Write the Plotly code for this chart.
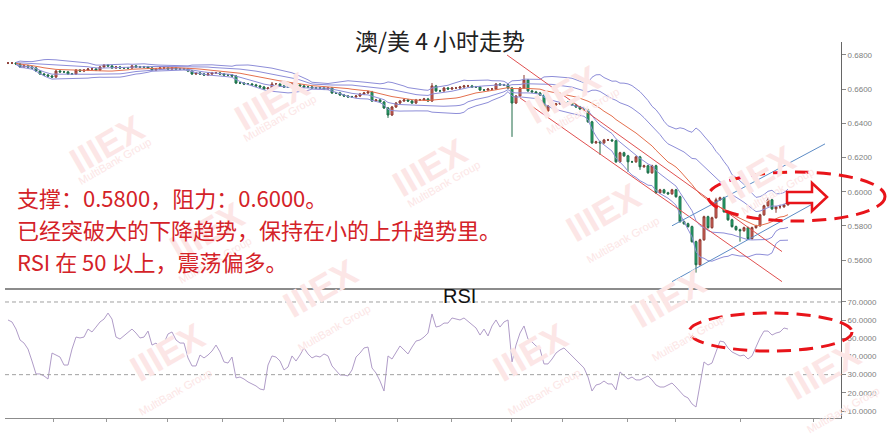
import plotly.graph_objects as go
import pandas as pd

# ---------------- data ----------------
closes = [
    .6753, .6753, .6747, .6730, .6736, .6730, .6724, .6706, .6689, .6683, .6677, .6671,
    .6706, .6701, .6701, .6689, .6689, .6712, .6706, .6712, .6718, .6718, .6712, .6730,
    .6741, .6736, .6724, .6730, .6724, .6724, .6724, .6736, .6730, .6730, .6730, .6724, .6712, .6718, .6724,
    .6724, .6718, .6724, .6718, .6718, .6718, .6706, .6689, .6695, .6689, .6683, .6689, .6695, .6695, .6689, .6683, .6683, .6677,
    .6636, .6636, .6630, .6630, .6625, .6619, .6613, .6601, .6607, .6630, .6630, .6619, .6613, .6613, .6630, .6625, .6619,
    .6613, .6613, .6607, .6607, .6607, .6601, .6607, .6578, .6578, .6566, .6560, .6555, .6555, .6560, .6572, .6578, .6584,
    .6531, .6537, .6525, .6490, .6449, .6496, .6519, .6531, .6537, .6531, .6519, .6537, .6537, .6543, .6531, .6619, .6590, .6590,
    .6607, .6601, .6607, .6607, .6613, .6619, .6619, .6613, .6613, .6595, .6595, .6601, .6601, .6630, .6625, .6625, .6607,
    .6519, .6560, .6607, .6654, .6590, .6584, .6578, .6566, .6473, .6502, .6508, .6514, .6519, .6525, .6519, .6508, .6496, .6484,
    .6479, .6409, .6286, .6292, .6286, .6303, .6303, .6298, .6175, .6228, .6210, .6175, .6175, .6204, .6146, .6152, .6111, .6152,
    .5994, .6011, .5994, .5988, .6011, .5971, .5825,
    .5813, .5796, .5708, .5573, .5719, .5854, .5790, .5848, .5953, .5965, .5883, .5836, .5796, .5778, .5772, .5790, .5726,
    .5790, .5801, .5865, .5918, .5953, .5900, .5912, .5912, .5924, .5994,
]
opens = [closes[0]] + closes[:-1]
highs = [
    .6759, .6759, .6759, .6753, .6742, .6742, .6736, .6730, .6712, .6695, .6689, .6683,
    .6712, .6712, .6707, .6707, .6695, .6718, .6718, .6718, .6724, .6724, .6724, .6736,
    .6747, .6747, .6742, .6736, .6736, .6730, .6730, .6742, .6742, .6736, .6736, .6736, .6730, .6724, .6730,
    .6730, .6730, .6730, .6730, .6724, .6724, .6724, .6712, .6701, .6701, .6695, .6695, .6701, .6701, .6701, .6695, .6689, .6689,
    .6683, .6642, .6642, .6636, .6636, .6631, .6625, .6619, .6613, .6642, .6636, .6636, .6625, .6619, .6636, .6636, .6631,
    .6625, .6619, .6619, .6613, .6613, .6613, .6613, .6613, .6584, .6584, .6572, .6566, .6561, .6566, .6578, .6584, .6590,
    .6590, .6543, .6543, .6531, .6496, .6502, .6525, .6537, .6543, .6543, .6537, .6543, .6543, .6549, .6549, .6636, .6625, .6596,
    .6613, .6613, .6613, .6613, .6619, .6625, .6625, .6625, .6619, .6619, .6601, .6607, .6607, .6636, .6636, .6631, .6631,
    .6613, .6566, .6613, .6683, .6660, .6596, .6590, .6584, .6572, .6508, .6514, .6520, .6525, .6531, .6531, .6525, .6514, .6502,
    .6490, .6485, .6415, .6298, .6298, .6309, .6309, .6309, .6304, .6234, .6234, .6216, .6181, .6210, .6210, .6158, .6158, .6158,
    .6158, .6017, .6017, .6000, .6017, .6017, .5977,
    .5831, .5819, .5802, .5714, .5725, .5860, .5860, .5854, .5965, .5971, .5971, .5889, .5842, .5802, .5784, .5796, .5796,
    .5796, .5807, .5871, .5924, .5965, .5959, .5918, .5924, .5930, .6000,
]
lows = [
    .6747, .6747, .6741, .6724, .6724, .6724, .6718, .6700, .6683, .6677, .6671, .6665,
    .6665, .6695, .6695, .6683, .6683, .6683, .6700, .6700, .6706, .6712, .6706, .6706,
    .6724, .6730, .6718, .6718, .6718, .6718, .6718, .6718, .6724, .6724, .6724, .6718, .6706, .6706, .6712,
    .6718, .6712, .6712, .6712, .6712, .6712, .6700, .6683, .6683, .6683, .6677, .6677, .6683, .6689, .6683, .6677, .6677, .6671,
    .6630, .6630, .6624, .6624, .6619, .6613, .6607, .6595, .6595, .6601, .6624, .6613, .6607, .6607, .6607, .6619, .6613,
    .6607, .6607, .6601, .6601, .6601, .6595, .6595, .6572, .6572, .6560, .6554, .6549, .6549, .6549, .6554, .6566, .6572,
    .6525, .6525, .6519, .6484, .6432, .6443, .6490, .6513, .6525, .6525, .6513, .6513, .6531, .6531, .6525, .6525, .6584, .6584,
    .6584, .6595, .6595, .6601, .6601, .6607, .6613, .6607, .6607, .6589, .6589, .6589, .6595, .6595, .6619, .6619, .6601,
    .6321, .6513, .6554, .6601, .6584, .6578, .6572, .6560, .6467, .6467, .6496, .6502, .6508, .6513, .6513, .6502, .6490, .6478,
    .6473, .6403, .6280, .6280, .6216, .6280, .6297, .6292, .6169, .6169, .6204, .6117, .6169, .6169, .6128, .6140, .6105, .6105,
    .5988, .5988, .5988, .5982, .5982, .5965, .5819,
    .5807, .5790, .5702, .5527, .5567, .5713, .5784, .5784, .5842, .5947, .5877, .5830, .5790, .5772, .5708, .5766, .5720,
    .5720, .5784, .5795, .5859, .5912, .5894, .5877, .5900, .5906, .5918,
]
rsi = [
    60.1, 59.0, 55.1, 49.1, 47.4, 44.1, 37.5, 30.4, 30.4, 29.3,
    27.6, 41.9, 40.8, 39.7, 35.3, 35.3, 44.1, 50.7, 50.2, 50.7,
    55.1, 53.5, 56.2, 59.0, 60.6, 63.9, 60.6, 50.7, 49.6, 51.3,
    53.5, 55.1, 52.9, 50.2, 50.7, 54.0, 46.3, 47.4, 45.2, 47.4,
    52.4, 53.5, 49.1, 47.4, 47.4, 39.2, 34.8, 34.8, 40.8, 39.2,
    40.8, 43.0, 46.3, 42.5, 37.0, 36.4, 39.7, 28.2, 28.7, 27.6,
    26.0, 24.9, 23.8, 22.1, 21.6, 35.3, 40.3, 39.7, 37.5, 32.6,
    34.2, 40.3, 37.5, 40.8, 44.7, 41.4, 39.2, 40.3, 39.7, 41.4,
    40.3, 34.8, 32.0, 29.8, 29.8, 29.3, 32.6, 39.7, 41.9, 44.7,
    45.2, 33.7, 30.9, 26.5, 21.0, 40.3, 38.6, 41.9, 45.8, 43.6,
    41.4, 45.2, 48.5, 49.1, 50.7, 52.9, 63.4, 56.2, 56.8, 58.4,
    58.4, 61.2, 60.6, 60.1, 61.2, 59.5, 57.9, 55.7, 51.8, 55.1,
    51.3, 56.8, 60.1, 56.2, 59.0, 60.1, 37.0, 46.3, 52.9, 56.8,
    49.6, 48.0, 45.8, 44.1, 35.9, 35.9, 38.6, 41.9, 43.6, 44.7,
    42.5, 40.3, 38.1, 35.9, 33.7, 28.7, 21.0, 24.3, 24.9, 26.5,
    24.9, 24.9, 21.6, 31.5, 29.3, 27.6, 28.7, 27.1, 27.1, 28.2,
    29.3, 27.1, 24.3, 23.2, 23.2, 24.3, 25.4, 23.2, 21.0, 18.3,
    17.2, 13.9, 12.2, 24.3, 37.0, 35.3, 36.4, 42.5, 48.5, 48.0,
    44.7, 42.5, 41.4, 40.3, 40.8, 38.6, 40.3, 45.2, 50.2, 54.0,
    54.0, 51.8, 52.9, 53.5, 55.7, 55.1,
]
price_ticks = [0.56, 0.58, 0.60, 0.62, 0.64, 0.66, 0.68]
rsi_ticks = [10, 20, 30, 40, 50, 60, 70]
rsi_levels = [30, 70]
session_ticks = [11.25, 24.5, 39.75, 53.5, 68.75, 81.75, 97.25, 110.75, 125.75,
                 138.5, 154.75, 166.75, 183, 201.25]
# hand-drawn trend lines: (candle index, price)
down_upper = [(124.75, 0.6800), (193.5, 0.5650)]
down_lower = [(128.0, 0.6549), (193.5, 0.5474)]
up_upper = [(166.0, 0.5801), (204.25, 0.6280)]
up_lower = [(166.0, 0.5474), (203.5, 0.5959)]

title_text = "澳/美 4 小时走势"
notes = ["支撑：0.5800，阻力：0.6000。",
         "已经突破大的下降趋势，保持在小的上升趋势里。",
         "RSI 在 50 以上，震荡偏多。"]

# ---------------- figure ----------------
N = len(closes)
x = list(range(N))
s = pd.Series(closes)
ma = s.rolling(20, min_periods=3).mean()
sd = s.rolling(20, min_periods=3).std(ddof=0)

W, H = 889, 440
ML, MR, MT, MB = 5, 48, 42, 22
PW, PH = W - ML - MR, H - MT - MB


def px(v):
    return (v - ML) / PW


def py(v):
    return (H - MB - v) / PH


split = py(288)

fig = go.Figure()

band_col = "#8d8dd8"
for k in (2, 1, -1, -2):
    fig.add_trace(go.Scatter(x=x, y=ma + k * sd, mode="lines",
                             line=dict(color=band_col, width=1), hoverinfo="skip"))
fig.add_trace(go.Scatter(x=x, y=ma, mode="lines",
                         line=dict(color="#e4704e", width=1), hoverinfo="skip"))

for seg, col in ((down_upper, "#e05050"), (down_lower, "#e05050"),
                 (up_upper, "#5d8cc6"), (up_lower, "#5d8cc6")):
    fig.add_trace(go.Scatter(x=[p[0] for p in seg], y=[p[1] for p in seg], mode="lines",
                             line=dict(color=col, width=1), hoverinfo="skip"))

fig.add_trace(go.Candlestick(
    x=x, open=opens, high=highs, low=lows, close=closes,
    increasing=dict(line=dict(color="#8a3b33", width=1), fillcolor="#e3675c"),
    decreasing=dict(line=dict(color="#1f6a47", width=1), fillcolor="#22b174"),
    whiskerwidth=0, hoverinfo="skip"))

fig.add_trace(go.Scatter(x=x[:len(rsi)], y=rsi, mode="lines", xaxis="x2", yaxis="y2",
                         line=dict(color="#b09cc8", width=1), hoverinfo="skip"))

shapes = []
for lv in rsi_levels:
    shapes.append(dict(type="line", xref="paper", yref="y2", x0=0, x1=1, y0=lv, y1=lv,
                       line=dict(color="#a0a0a0", width=1, dash="4px,3px")))

red = "#e8141a"
shapes.append(dict(type="circle", xref="paper", yref="paper",
                   x0=px(708), x1=px(885), y0=py(221), y1=py(172),
                   line=dict(color=red, width=3, dash="14px,8px"), layer="above"))
shapes.append(dict(type="circle", xref="paper", yref="paper",
                   x0=px(689), x1=px(852), y0=py(351), y1=py(313),
                   line=dict(color=red, width=3, dash="14px,8px"), layer="above"))
arrow_pts = [(787, 192), (812, 192), (812, 183), (827, 197), (812, 211), (812, 203), (787, 203)]
path = "M " + " L ".join(f"{px(a):.5f},{py(b):.5f}" for a, b in arrow_pts) + " Z"
shapes.append(dict(type="path", xref="paper", yref="paper", path=path,
                   line=dict(color=red, width=2.5), fillcolor="white", layer="above"))

annotations = []
# faint watermarks
wm = [(60, 105), (225, 62), (430, 128), (610, 55), (650, 212), (805, 135),
      (160, 232), (120, 392), (320, 328), (530, 392), (715, 338), (870, 410)]
for a, b in wm:
    annotations.append(dict(x=px(a), y=py(b), xref="paper", yref="paper", text="<b>IIIEX</b>",
                            showarrow=False, textangle=-30,
                            font=dict(family="Liberation Sans", size=36, color="#fce6e6")))
    annotations.append(dict(x=px(a + 14), y=py(b + 28), xref="paper", yref="paper",
                            text="MultiBank Group", showarrow=False, textangle=-30,
                            font=dict(family="Liberation Sans", size=11, color="#fce6e6")))

annotations.append(dict(x=px(440), y=py(40), xref="paper", yref="paper", text=title_text,
                        showarrow=False, xanchor="center", yanchor="middle",
                        font=dict(family="Noto Sans CJK SC", size=23, color="#222222")))
for t, yy in zip(notes, (197, 229, 261)):
    annotations.append(dict(x=px(15), y=py(yy), xref="paper", yref="paper", text=t,
                            showarrow=False, xanchor="left", yanchor="middle",
                            font=dict(family="Noto Sans CJK SC", size=22, color="#d42228")))
annotations.append(dict(x=px(459), y=py(296), xref="paper", yref="paper", text="RSI",
                        showarrow=False, xanchor="center", yanchor="middle",
                        font=dict(family="Liberation Sans", size=20, color="#111111")))

tickfont = dict(family="Liberation Sans", size=8, color="#808080")
fig.update_layout(
    width=W, height=H, margin=dict(l=ML, r=MR, t=MT, b=MB),
    paper_bgcolor="white", plot_bgcolor="white", showlegend=False,
    shapes=shapes, annotations=annotations,
    xaxis=dict(domain=[0, 1], anchor="y", range=[-0.75, 208.25], showline=True,
               linecolor="#8c8c8c", linewidth=1.5, showticklabels=False, ticks="",
               showgrid=False, zeroline=False, rangeslider=dict(visible=False)),
    xaxis2=dict(domain=[0, 1], anchor="y2", matches="x", showline=True, linecolor="#8c8c8c",
                linewidth=1, ticks="outside", tickvals=session_ticks, ticklen=3,
                tickcolor="#999999", showticklabels=False, showgrid=False, zeroline=False),
    yaxis=dict(domain=[split, 1], anchor="x", side="right", range=[0.5437, 0.6876],
               tickvals=price_ticks, tickformat=".4f", ticks="outside", ticklen=4,
               tickcolor="#888888", tickfont=tickfont, showline=True, linecolor="#666666",
               showgrid=False, zeroline=False),
    yaxis2=dict(domain=[0, split], anchor="x2", side="right", range=[6.15, 77.7],
                tickvals=rsi_ticks, tickformat=".4f", ticks="outside", ticklen=4,
                tickcolor="#888888", tickfont=tickfont, showline=True, linecolor="#666666",
                showgrid=False, zeroline=False),
)

fig.write_html("out.html", config={"displayModeBar": False},
               post_script="document.body.style.margin='0';")
